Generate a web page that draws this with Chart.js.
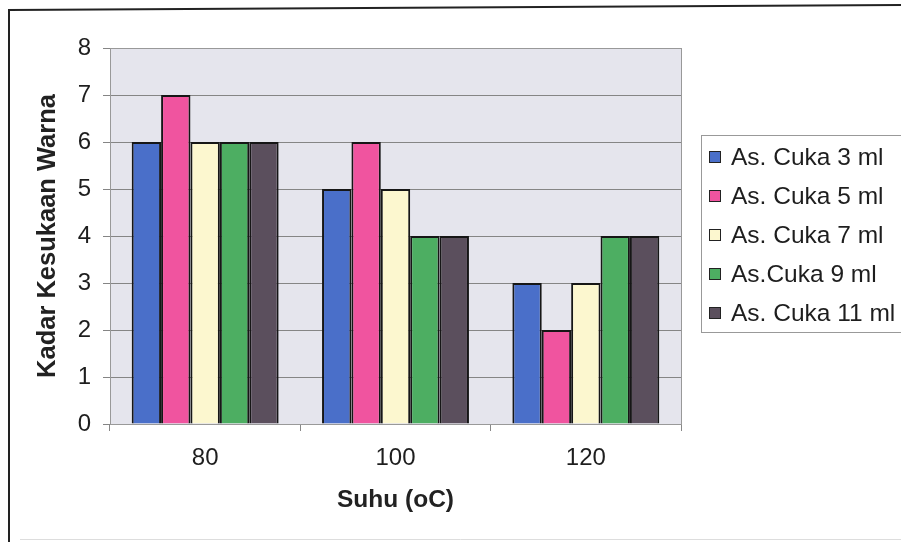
<!DOCTYPE html>
<html>
<head>
<meta charset="utf-8">
<script src="https://cdn.jsdelivr.net/npm/chart.js@4"></script>
<style>
  html, body { margin: 0; padding: 0; background: #fff; }
  #wrap { width: 901px; height: 542px; }
</style>
</head>
<body>
<div id="wrap"><canvas id="myGraph" width="901" height="542"></canvas></div>
<script>
"use strict";

let suhu = ["80", "100", "120"];
let cuka3 = [6, 5, 3];
let cuka5 = [7, 6, 2];
let cuka7 = [6, 5, 3];
let cuka9 = [6, 4, 4];
let cuka11 = [6, 4, 4];
let seriesNames = ["As. Cuka 3 ml", "As. Cuka 5 ml", "As. Cuka 7 ml", "As.Cuka 9 ml", "As. Cuka 11 ml"];
let yTicks = [0, 1, 2, 3, 4, 5, 6, 7, 8];

let fontFam = "'Liberation Sans', Arial, sans-serif";
let barColors = ["#4a6fc9", "#f0549f", "#fcf7cf", "#4dae62", "#5b4f5d"];

// grey plot area + frame around the whole chart
const backdrop = {
    id: "backdrop",
    beforeDraw(chart) {
        const ctx = chart.ctx;
        const a = chart.chartArea;
        ctx.save();
        ctx.fillStyle = "#fff";
        ctx.fillRect(0, 0, chart.width, chart.height);
        ctx.fillStyle = "#e5e5ed";
        ctx.fillRect(a.left, a.top, a.right - a.left, a.bottom - a.top);
        ctx.restore();
    },
    afterDraw(chart) {
        const ctx = chart.ctx;
        const a = chart.chartArea;
        ctx.save();
        ctx.strokeStyle = "#999";
        ctx.lineWidth = 1;
        ctx.strokeRect(a.left + 0.5, a.top + 0.5, a.right - a.left, a.bottom - a.top);

        // outer frame
        ctx.strokeStyle = "#222";
        ctx.lineWidth = 2;
        ctx.beginPath();
        ctx.moveTo(901, 5);
        ctx.lineTo(9, 10);
        ctx.lineTo(9, 542);
        ctx.stroke();
        ctx.strokeStyle = "#ddd";
        ctx.lineWidth = 1;
        ctx.beginPath();
        ctx.moveTo(20, 539.5);
        ctx.lineTo(901, 539.5);
        ctx.stroke();
        ctx.restore();
    },
};

// legend box on the right, built from the datasets
const sideLegend = {
    id: "sideLegend",
    afterDraw(chart) {
        const ctx = chart.ctx;
        ctx.save();
        ctx.strokeStyle = "#999";
        ctx.lineWidth = 1;
        ctx.strokeRect(701.5, 135.5, 260, 197);
        ctx.font = "24.5px " + fontFam;
        ctx.textBaseline = "middle";
        ctx.textAlign = "left";
        chart.data.datasets.forEach((ds, i) => {
            let y = 157 + i * 39;
            ctx.fillStyle = ds.backgroundColor;
            ctx.fillRect(709, y - 6, 12, 12);
            ctx.strokeStyle = "#222";
            ctx.lineWidth = 1;
            ctx.strokeRect(709.5, y - 5.5, 11, 11);
            ctx.fillStyle = "#1e1e1e";
            ctx.fillText(ds.label, 731, y + 1);
        });
        ctx.restore();
    },
};

const allSeries = [cuka3, cuka5, cuka7, cuka9, cuka11];
const datasets = [];
for (let i = 0; i < allSeries.length; i++) {
    datasets.push({
        label: seriesNames[i],
        data: allSeries[i],
        backgroundColor: barColors[i],
        borderColor: "#161616",
        borderWidth: 2,
        categoryPercentage: 0.772,
        barPercentage: 1,
    });
}

const config = {
    type: "bar",
    data: { labels: suhu, datasets: datasets },
    options: {
        responsive: false,
        animation: false,
        devicePixelRatio: 1,
        layout: { padding: { top: 48, right: 220, left: 0, bottom: 0 } },
        plugins: {
            legend: { display: false },
            tooltip: { enabled: false },
        },
        scales: {
            x: {
                afterFit(scale) { scale.height = 118; },
                grid: {
                    display: true,
                    drawOnChartArea: false,
                    offset: true,
                    tickLength: 7,
                    color: "#888",
                },
                border: { display: true, color: "#777", width: 1 },
                ticks: {
                    padding: 13,
                    color: "#1e1e1e",
                    font: { family: fontFam, size: 24 },
                },
                title: {
                    display: true,
                    text: "Suhu (oC)",
                    color: "#222",
                    padding: { top: 0, bottom: 27 },
                    font: { family: fontFam, size: 24.5, weight: "bold" },
                },
            },
            y: {
                min: 0,
                max: 8,
                afterFit(scale) { scale.width = 110; },
                afterBuildTicks(scale) {
                    scale.ticks = yTicks.map((v) => ({ value: v }));
                },
                grid: {
                    color: "#858585",
                    lineWidth: 1,
                    tickLength: 7,
                },
                border: { display: true, color: "#888", width: 1 },
                ticks: {
                    padding: 12,
                    color: "#1e1e1e",
                    font: { family: fontFam, size: 24 },
                },
                title: {
                    display: true,
                    text: "Kadar Kesukaan Warna",
                    color: "#222",
                    padding: { top: 33, bottom: 0 },
                    font: { family: fontFam, size: 25.5, weight: "bold" },
                },
            },
        },
    },
    plugins: [backdrop, sideLegend],
};

const canvasChart = document.getElementById("myGraph");
new Chart(canvasChart, config);
</script>
</body>
</html>
